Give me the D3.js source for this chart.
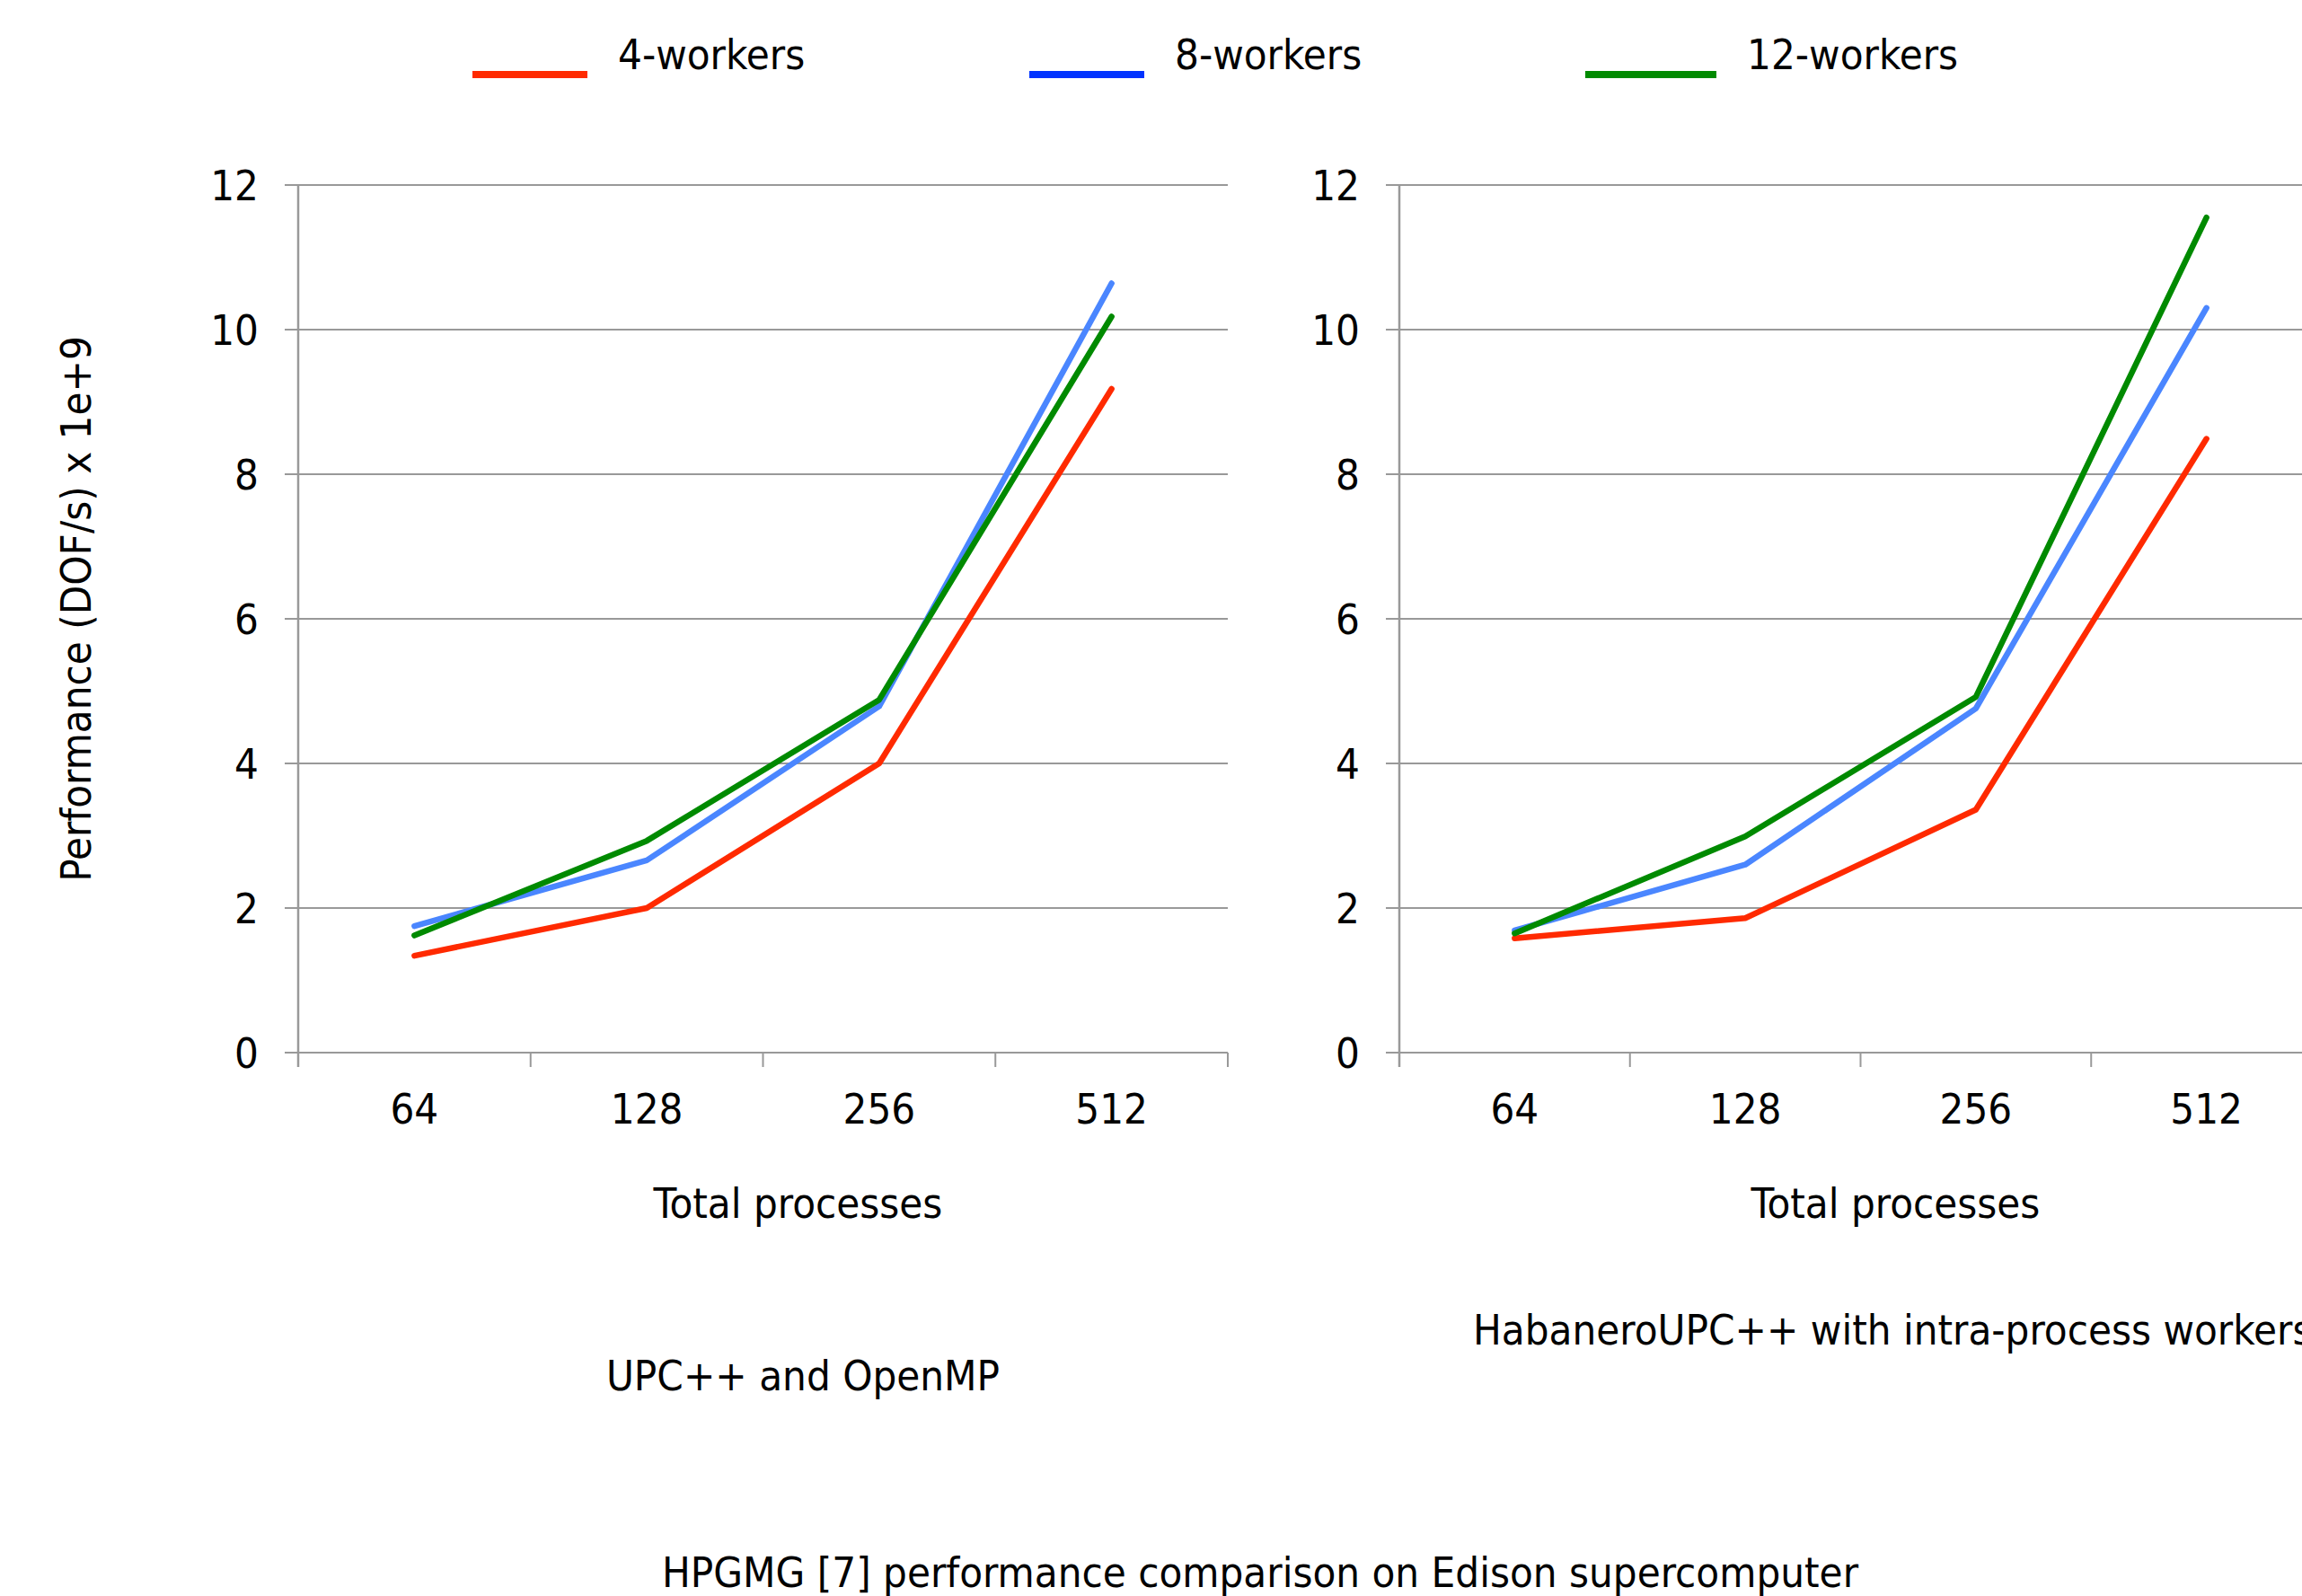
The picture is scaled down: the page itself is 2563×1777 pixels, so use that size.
<!DOCTYPE html>
<html>
<head>
<meta charset="utf-8">
<script src="https://cdn.jsdelivr.net/npm/d3@7"></script>
<style>
  body { margin: 0; background: #fff; }
  svg text { font-family: "DejaVu Sans Condensed", "DejaVu Sans", sans-serif; fill: #000; }
</style>
</head>
<body>
<svg id="chart" width="2563" height="1777"></svg>
<script>
// processes on the x axis
const categories = ["64", "128", "256", "512"];
const seriesNames = ["4-workers", "8-workers", "12-workers"];

// UPC++ and OpenMP (left panel), DOF/s x 1e9
const upcOpenmp4 = [1.34, 2.0, 4.0, 9.18];
const upcOpenmp8 = [1.75, 2.66, 4.79, 10.64];
const upcOpenmp12 = [1.62, 2.93, 4.88, 10.18];

// HabaneroUPC++ (right panel)
const habanero4 = [1.58, 1.86, 3.36, 8.49];
const habanero8 = [1.69, 2.60, 4.76, 10.30];
const habanero12 = [1.65, 2.99, 4.92, 11.55];

const yTicks = [0, 2, 4, 6, 8, 10, 12];

const lineColors = ["#ff2a00", "#4a86ff", "#008a00"];
const legendColors = ["#ff2a00", "#0033ff", "#008a00"];

const svg = d3.select("#chart");
const fontSize = 47;

const panels = [
    { left: 332, right: 1367, title: "UPC++ and OpenMP", titleX: 894, titleY: 1548,
      data: [upcOpenmp4, upcOpenmp8, upcOpenmp12] },
    { left: 1558, right: 2585, title: "HabaneroUPC++ with intra-process workers", titleX: 1640, titleY: 1497,
      anchor: "start", data: [habanero4, habanero8, habanero12] }
];

const plotTop = 206, plotBottom = 1172;

const y = d3.scaleLinear().domain([0, 12]).range([plotBottom, plotTop]);

panels.forEach(p => {
    const x = d3.scaleBand().domain(categories).range([p.left, p.right]);
    const g = svg.append("g");

    // grid lines
    g.selectAll("line.grid")
        .data(yTicks)
        .enter()
        .append("line")
        .attr("x1", p.left - 15)
        .attr("x2", p.right)
        .attr("y1", d => y(d))
        .attr("y2", d => y(d))
        .attr("stroke", "#999")
        .attr("stroke-width", 2);

    // y axis line
    g.append("line")
        .attr("x1", p.left).attr("x2", p.left)
        .attr("y1", plotTop).attr("y2", plotBottom + 16)
        .attr("stroke", "#999").attr("stroke-width", 2.5);

    // x ticks between categories
    const bounds = categories.map(c => x(c)).concat([p.right]);
    g.selectAll("line.xtick")
        .data(bounds.slice(1))
        .enter()
        .append("line")
        .attr("x1", d => d).attr("x2", d => d)
        .attr("y1", plotBottom).attr("y2", plotBottom + 16)
        .attr("stroke", "#999").attr("stroke-width", 2);

    // y tick labels
    g.selectAll("text.ylab")
        .data(yTicks)
        .enter()
        .append("text")
        .attr("x", p.left - 44)
        .attr("y", d => y(d) + 17)
        .attr("text-anchor", "end")
        .style("font-size", fontSize + "px")
        .text(d => d);

    // x tick labels
    g.selectAll("text.xlab")
        .data(categories)
        .enter()
        .append("text")
        .attr("x", d => x(d) + x.bandwidth() / 2)
        .attr("y", plotBottom + 79)
        .attr("text-anchor", "middle")
        .style("font-size", fontSize + "px")
        .text(d => d);

    g.append("text")
        .attr("x", (p.left + p.right) / 2 + 39)
        .attr("y", 1356)
        .attr("text-anchor", "middle")
        .style("font-size", fontSize + "px")
        .text("Total processes");

    g.append("text")
        .attr("x", p.titleX)
        .attr("y", p.titleY)
        .attr("text-anchor", p.anchor || "middle")
        .style("font-size", fontSize + "px")
        .text(p.title);

    const line = d3.line()
        .x((d, i) => x(categories[i]) + x.bandwidth() / 2)
        .y(d => y(d));

    g.selectAll("path.series")
        .data(p.data)
        .enter()
        .append("path")
        .attr("d", d => line(d))
        .attr("fill", "none")
        .attr("stroke", (d, i) => lineColors[i])
        .attr("stroke-width", 6.5)
        .attr("stroke-linecap", "round")
        .attr("stroke-linejoin", "round");
});

// y axis title
svg.append("text")
    .attr("transform", "translate(101,678) rotate(-90)")
    .attr("text-anchor", "middle")
    .style("font-size", fontSize + "px")
    .text("Performance (DOF/s) x 1e+9");

// legend
const legendX = [526, 1146, 1765];
const legendLen = [128, 128, 146];
const legend = svg.append("g");
seriesNames.forEach((name, i) => {
    legend.append("line")
        .attr("x1", legendX[i]).attr("x2", legendX[i] + legendLen[i])
        .attr("y1", 83).attr("y2", 83)
        .attr("stroke", legendColors[i])
        .attr("stroke-width", 8);
    legend.append("text")
        .attr("x", legendX[i] + legendLen[i] + 34)
        .attr("y", 77)
        .style("font-size", fontSize + "px")
        .text(name);
});

svg.append("text")
    .attr("x", 1403)
    .attr("y", 1767)
    .attr("text-anchor", "middle")
    .style("font-size", fontSize + "px")
    .text("HPGMG [7] performance comparison on Edison supercomputer");
</script>
</body>
</html>
